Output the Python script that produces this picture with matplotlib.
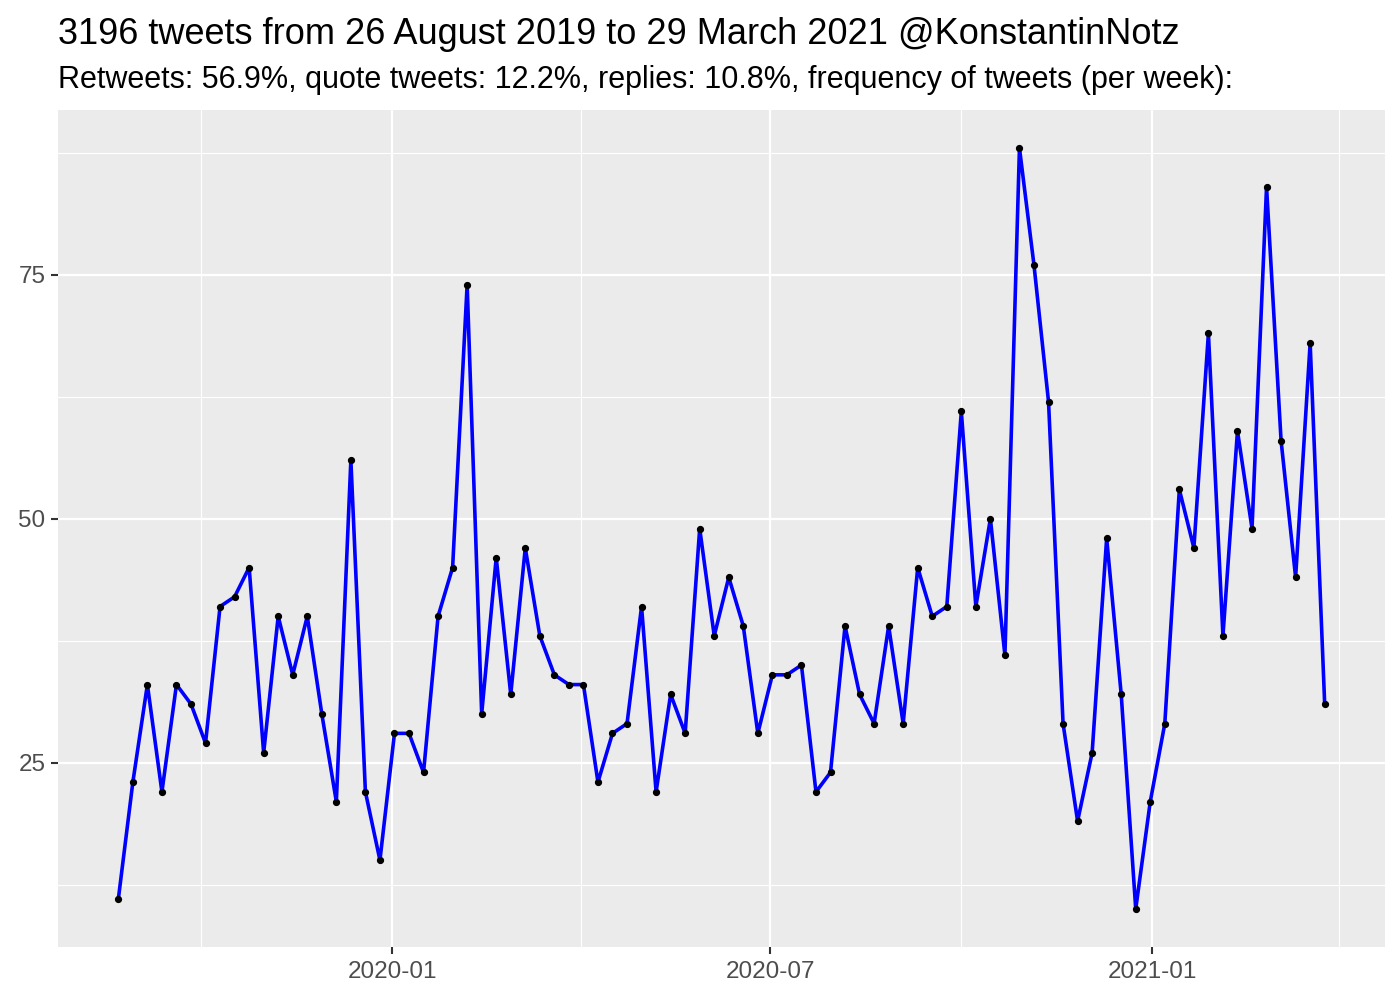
import matplotlib
matplotlib.use("Agg")
import matplotlib.pyplot as plt
import matplotlib.dates as mdates
import pandas as pd

start_date = "2019-08-22"
tweets_per_week = [
    11, 23, 33, 22, 33, 31, 27, 41, 42, 45,
    26, 40, 34, 40, 30, 21, 56, 22, 15, 28,
    28, 24, 40, 45, 74, 30, 46, 32, 47, 38,
    34, 33, 33, 23, 28, 29, 41, 22, 32, 28,
    49, 38, 44, 39, 28, 34, 34, 35, 22, 24,
    39, 32, 29, 39, 29, 45, 40, 41, 61, 41,
    50, 36, 88, 76, 62, 29, 19, 26, 48, 32,
    10, 21, 29, 53, 47, 69, 38, 59, 49, 84,
    58, 44, 68, 31,
]
y_major = [25, 50, 75]
y_minor = [12.5, 37.5, 62.5, 87.5]

title = "3196 tweets from 26 August 2019 to 29 March 2021 @KonstantinNotz"
subtitle = ("Retweets: 56.9%, quote tweets: 12.2%, replies: 10.8%, "
            "frequency of tweets (per week):")

dates = pd.date_range(start_date, periods=len(tweets_per_week), freq="7D")

plt.rcParams['font.family'] = ['Liberation Sans', 'DejaVu Sans']
fig = plt.figure(figsize=(14, 10), dpi=100)
ax = fig.add_axes([58/1400, 53/1000, (1385-58)/1400, (947-110)/1000])
ax.set_facecolor('#EBEBEB')

ax.plot(dates, tweets_per_week, color='blue', lw=2.6, zorder=3,
        solid_joinstyle='round')
ax.plot(dates, tweets_per_week, 'o', color='black', ms=4.2, zorder=4)

span = dates[-1] - dates[0]
ax.set_xlim(dates[0] - span * 0.05, dates[-1] + span * 0.05)
ymin, ymax = min(tweets_per_week), max(tweets_per_week)
yr = ymax - ymin
ax.set_ylim(ymin - 0.05 * yr, ymax + 0.05 * yr)

ax.set_yticks(y_major)
ax.set_yticks(y_minor, minor=True)
ax.xaxis.set_major_locator(mdates.MonthLocator(bymonth=[1, 7]))
ax.xaxis.set_minor_locator(mdates.MonthLocator(bymonth=[4, 10]))
ax.xaxis.set_major_formatter(mdates.DateFormatter('%Y-%m'))

ax.set_axisbelow(True)
ax.grid(which='major', color='white', lw=1.6)
ax.grid(which='minor', color='white', lw=0.8)
for s in ax.spines.values():
    s.set_visible(False)
ax.tick_params(which='major', length=5, width=1.5, color='#333333',
               labelcolor='#4D4D4D', labelsize=17.5, pad=4)
ax.tick_params(axis='x', which='major', pad=5)
ax.tick_params(which='minor', length=0)

fig.text(58/1400, 1 - 44/1000, title, fontsize=26, color='black', va='baseline')
fig.text(58/1400, 1 - 88/1000, subtitle, fontsize=22, color='black', va='baseline')

fig.savefig('out.png', dpi=100)
